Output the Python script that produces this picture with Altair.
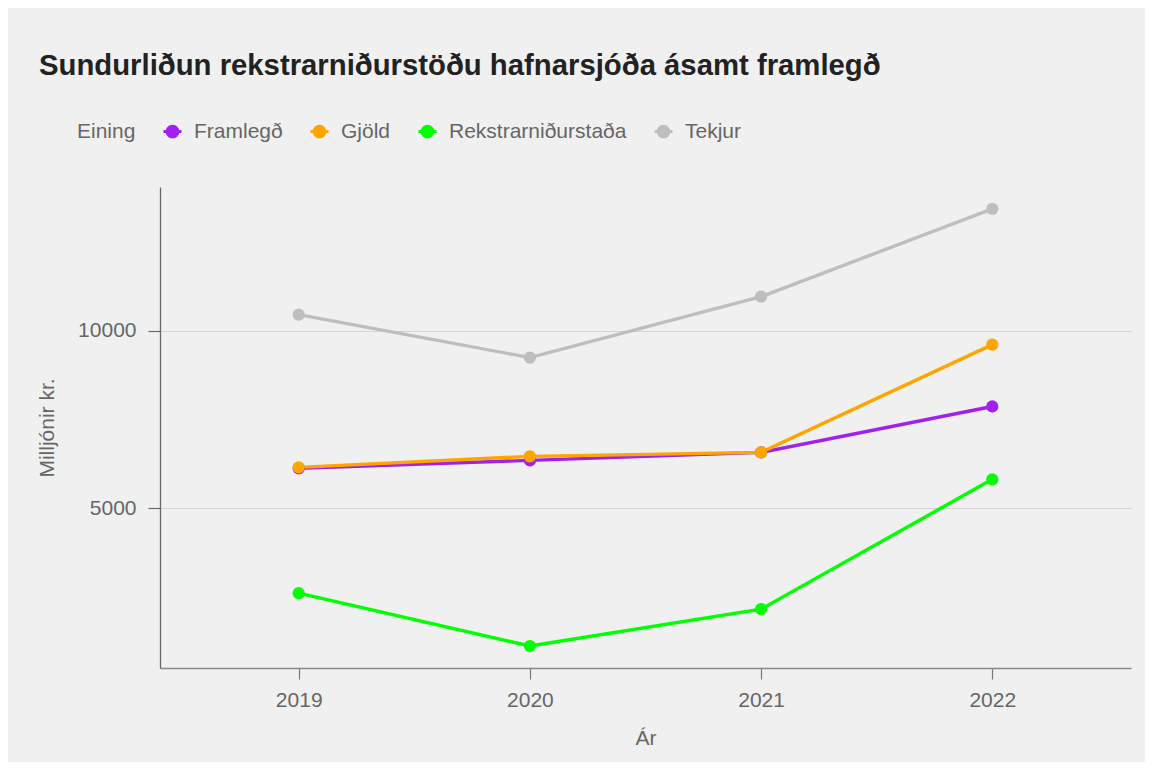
import altair as alt
import pandas as pd

years = ["2019", "2020", "2021", "2022"]
framlegd = [6124, 6348, 6573, 7865]
gjold = [6152, 6461, 6573, 9607]
rekstur = [2612, 1124, 2163, 5815]
tekjur = [10449, 9242, 10955, 13427]

series_names = ["Framlegð", "Gjöld", "Rekstrarniðurstaða", "Tekjur"]
series_vals = [framlegd, gjold, rekstur, tekjur]
colors = ["#A020F0", "#FFA500", "#00FF00", "#BEBEBE"]

rows = []
for name, vals in zip(series_names, series_vals):
    for y, v in zip(years, vals):
        rows.append({"Ár": y, "Eining": name, "Gildi": v})
df = pd.DataFrame(rows)

FONT = "Liberation Sans"
sym_path = "M-1,0 L1,0 M-0.6,0 A0.6,0.6 0 1,1 0.6,0 A0.6,0.6 0 1,1 -0.6,0 Z"

x_enc = alt.X(
    "Ár:O",
    sort=years,
    scale=alt.Scale(type="point", padding=0.6),
    axis=alt.Axis(
        title="Ár", labelAngle=0, grid=False,
        domainColor="#888888", domainWidth=1.5,
        tickColor="#777777", tickSize=11, tickWidth=1.2,
        labelPadding=10, titlePadding=17,
    ),
)
y_enc = alt.Y(
    "Gildi:Q",
    scale=alt.Scale(domain=[505, 14042], nice=False, zero=False),
    axis=alt.Axis(
        title="Milljónir kr.", values=[5000, 10000], format="d",
        domainColor="#666666", domainWidth=1.3,
        tickColor="#666666", tickSize=12, tickWidth=1.2,
        gridColor="#D4D4D4", gridWidth=1,
        labelPadding=12, titlePadding=20,
    ),
)
color_enc = alt.Color(
    "Eining:N",
    scale=alt.Scale(domain=series_names, range=colors),
    legend=alt.Legend(
        orient="none", direction="horizontal",
        legendX=-83, legendY=-66,
        titleOrient="left", titleAnchor="middle", titleBaseline="middle",
        titlePadding=26, columnPadding=21, labelOffset=11,
        symbolType=sym_path, symbolSize=324, symbolStrokeWidth=3,
        labelLimit=0, padding=0,
    ),
)

base = alt.Chart(df).encode(x=x_enc, y=y_enc, color=color_enc)
lines = base.mark_line(strokeWidth=3.4)
points = base.mark_circle(size=150, opacity=1)

chart = (
    alt.layer(lines, points)
    .properties(
        width=971,
        height=481,
        title=alt.TitleParams(
            "Sundurliðun rekstrarniðurstöðu hafnarsjóða ásamt framlegð",
            anchor="start", frame="group", dx=-121, offset=17,
            baseline="alphabetic",
            fontSize=29.3, font=FONT, fontWeight="bold", color="#222222",
        ),
        background="#F0F0F0",
        padding={"left": 152, "top": 179, "right": 14, "bottom": 94},
        autosize=alt.AutoSizeParams(type="none"),
    )
    .configure_view(stroke=None)
    .configure_axis(
        labelFont=FONT, titleFont=FONT, labelFontSize=21, titleFontSize=21,
        labelColor="#666666", titleColor="#666666", titleFontWeight="normal",
    )
    .configure_legend(
        labelFont=FONT, titleFont=FONT, labelFontSize=21, titleFontSize=21,
        labelColor="#666666", titleColor="#666666", titleFontWeight="normal",
    )
)

chart.save("out.html", embed_options={"renderer": "svg", "actions": False})
